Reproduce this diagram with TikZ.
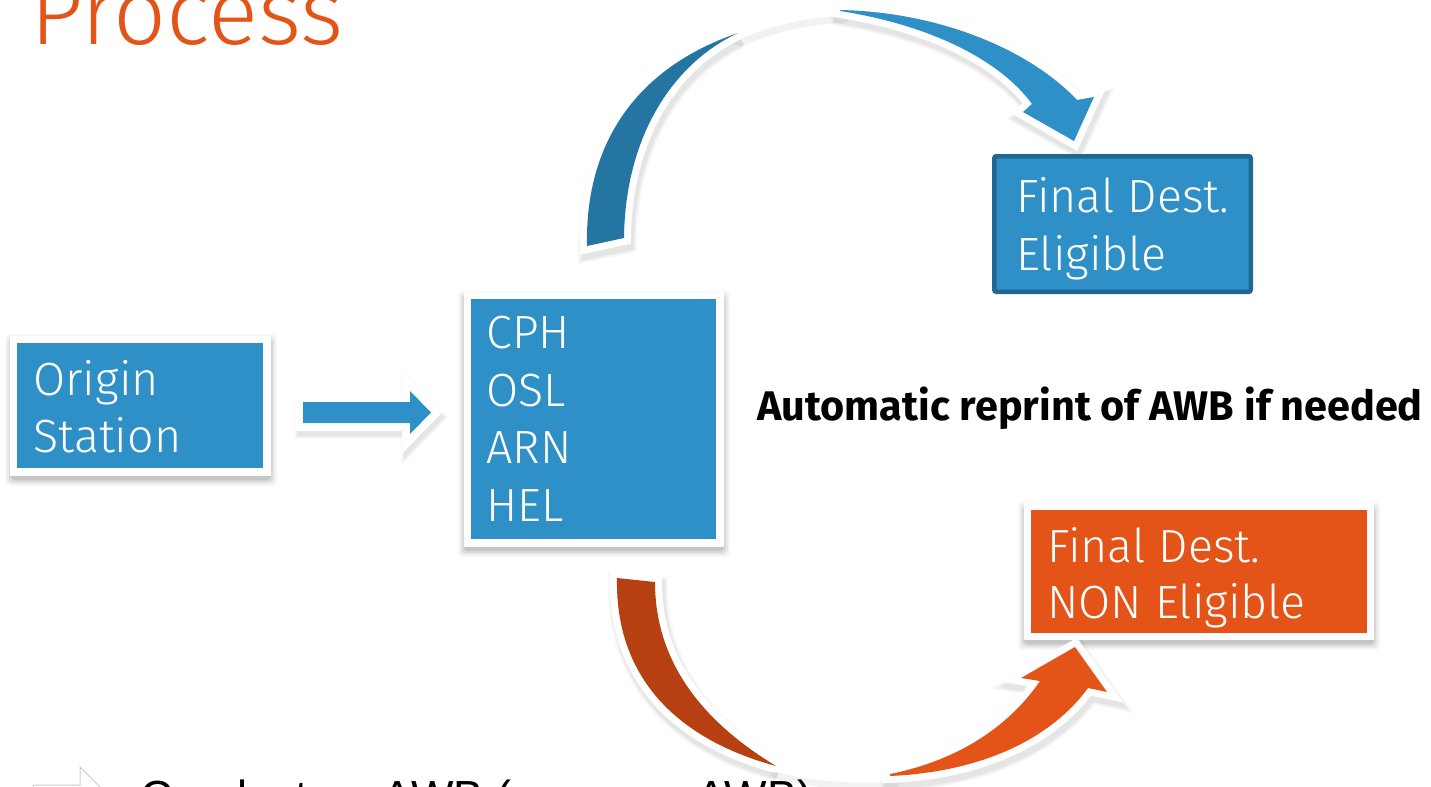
\documentclass[tikz,border=0pt]{standalone}
\usepackage{fontspec}
\setmainfont{Fira Sans}
\IfFontExistsTF{Fira Sans Light}{\newfontfamily\lightfont{Fira Sans Light}}{\newfontfamily\lightfont{Fira Sans}}
\newfontfamily\arialfont{Liberation Sans}
\definecolor{boxblue}{RGB}{46,144,199}
\definecolor{backblue}{RGB}{37,117,163}
\definecolor{edgeblue}{RGB}{31,104,146}
\definecolor{boxorange}{RGB}{228,83,23}
\definecolor{backorange}{RGB}{183,64,18}
\newcommand\boxshadow[4]{%
  \foreach \s/\o in {6/0.03,4/0.05,2/0.07,0/0.09}{%
    \fill[black, opacity=\o, rounded corners=2pt] (#1-\s+1,#2-\s+5) rectangle (#3+\s+1,#4+\s+4);
  }}
\def\blockarrow{(303,402) -- (410,402) -- (410,391) -- (431,412.5) -- (410,434) -- (410,423) -- (303,423) -- cycle}
\def\topdark{(587,246) .. controls (585,150) and (630,70) .. (738,33) .. controls (670,65) and (625,140) .. (624,238) -- cycle}
\def\toplink{(738,33) .. controls (770,20) and (805,11) .. (840,10)}
\def\toplight{(840,10) .. controls (940,12) and (1030,50) .. (1077,100) -- (1094,97) -- (1074,141) -- (1023,112) -- (1032,104) .. controls (1000,60) and (930,25) .. (840,11) -- cycle}
\def\botdark{(617,578) .. controls (615,680) and (680,740) .. (776,766) .. controls (700,720) and (655,660) .. (655,582) -- cycle}
\def\botlink{(776,766) .. controls (815,776) and (855,778) .. (890,776)}
\def\botlight{(890,776) .. controls (980,772) and (1050,740) .. (1088,688) -- (1107,692) -- (1075,647) -- (1021,678) -- (1040,681) .. controls (1010,725) and (960,760) .. (890,774) -- cycle}
\begin{document}
\begin{tikzpicture}[x=0.5pt,y=-0.5pt,
  boxtext/.style={anchor=base west, inner sep=0, text=white, font=\lightfont\fontsize{23.3}{23.3}\selectfont},
  framed/.style={rectangle, inner sep=0, draw=white},
  silh/.style={draw=white, line width=7pt, line join=miter, miter limit=4},
  shad/.style={draw=black, fill=black, opacity=#1, line join=miter, miter limit=4, transform canvas={shift={(2,5)}}},
  shad/.default=0.04,
  linkshad/.style={draw=black, opacity=0.05, line width=8pt, line cap=round, transform canvas={shift={(2,5)}}},
]
\useasboundingbox (0,0) rectangle (1431,787);
\clip (0,0) rectangle (1431,787);
\fill[white] (0,0) rectangle (1431,787);

% title
\node[anchor=base west, inner sep=0, text=boxorange, font=\lightfont\fontsize{46.5}{46.5}\selectfont] (title) at (30,44) {Process};

% box shadows
\boxshadow{10}{335}{270}{476}
\boxshadow{463}{292}{723}{547}
\boxshadow{1023}{503}{1373}{640}

% arrow shadows (soft, layered)
\foreach \w/\o in {11pt/0.025,9.5pt/0.035,8pt/0.045}{
  \path[shad=\o, line width=\w] \blockarrow;
  \path[shad=\o, line width=\w] \topdark;
  \path[shad=\o, line width=\w] \toplight;
  \path[shad=\o, line width=\w] \botdark;
  \path[shad=\o, line width=\w] \botlight;
}
\path[linkshad] \toplink;
\path[linkshad] \botlink;

% white outlines
\path[silh, line width=8pt] \blockarrow;
\path[silh] \topdark;
\path[draw=white, line width=6pt, line cap=round] \toplink;
\path[silh] \toplight;
\path[silh] \botdark;
\path[draw=white, line width=6pt, line cap=round] \botlink;
\path[silh] \botlight;

% fills
\fill[boxblue] \blockarrow;
\fill[backblue] \topdark;
\fill[boxblue] \toplight;
\fill[backorange] \botdark;
\fill[boxorange] \botlight;

% boxes
\node[framed, fill=boxblue, line width=3.75pt, minimum width=126.75pt, minimum height=66.25pt] (origin) at (140,405.5) {};
\node[boxtext] (origin1) at (33,395) {Origin};
\node[boxtext] (origin2) at (33,452) {Station};

\node[framed, fill=boxblue, line width=3.75pt, minimum width=126.25pt, minimum height=123.75pt] (hub) at (593.5,419) {};
\node[boxtext] (hub1) at (486,348) {CPH};
\node[boxtext] (hub2) at (486,406) {OSL};
\node[boxtext] (hub3) at (486,463) {ARN};
\node[boxtext] (hub4) at (486,521) {HEL};

\node[rectangle, inner sep=0, fill=boxblue, draw=edgeblue, line width=2.25pt, rounded corners=1pt, minimum width=128.25pt, minimum height=67.75pt] (elig) at (1122.5,224) {};
\node[boxtext] (elig1) at (1016,212) {Final Dest.};
\node[boxtext] (elig2) at (1016,270) {Eligible};

\node[framed, fill=boxorange, line width=3.5pt, minimum width=171.5pt, minimum height=65pt] (nonelig) at (1198.5,571.5) {};
\node[boxtext] (nonelig1) at (1047,562) {Final Dest.};
\node[boxtext] (nonelig2) at (1047,618) {NON Eligible};

% label
\node[anchor=base west, inner sep=0, font=\bfseries\fontsize{20.7}{20.7}\selectfont] (reprint) at (757,420) {Automatic reprint of AWB if needed};

% bottom bullet line (cut off)
\path[draw=black!20, fill=white, line width=0.5pt] (33,785) -- (80,785) -- (80,767) -- (120,807) -- (80,847) -- (80,829) -- (33,829) -- cycle;
\node[anchor=base west, inner sep=0, font=\arialfont\fontsize{22.5}{22.5}\selectfont] (bullet) at (140,812) {Conduct an AWB (or a new AWB)};
\end{tikzpicture}
\end{document}
